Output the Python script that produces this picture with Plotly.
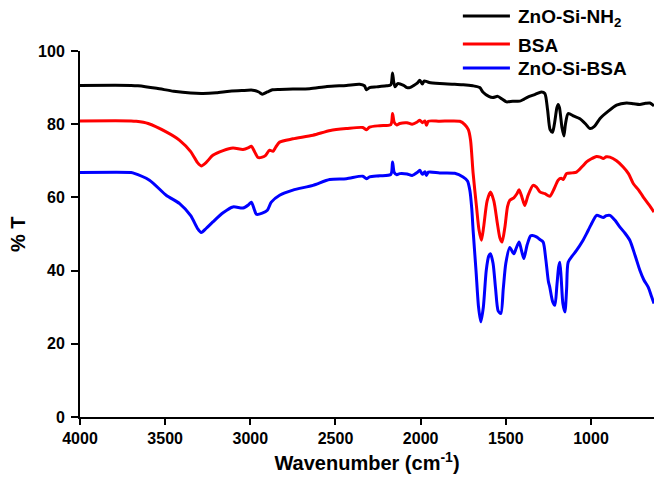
import plotly.graph_objects as go

# FTIR spectra: wavenumber (cm-1) and transmittance (%)
amine_wn = [4000, 3700, 3660, 3550, 3450, 3350, 3278, 3200, 3122, 3050, 2986, 2950, 2930, 2900,
            2870, 2828, 2750, 2652, 2550, 2436, 2358, 2330, 2318, 2300, 2260, 2240, 2200, 2175,
            2165, 2158, 2150, 2135, 2100, 2080, 2064, 2040, 2020, 2005, 1990, 1980, 1966, 1950,
            1888, 1800, 1750, 1694, 1653, 1635, 1600, 1576, 1547, 1520, 1496, 1459, 1418, 1395,
            1371, 1330, 1291, 1271, 1255, 1240, 1226, 1215, 1200, 1193, 1185, 1170, 1159, 1150,
            1134, 1100, 1065, 1030, 1006, 980, 948, 900, 850, 791, 750, 713, 680, 654, 630]
amine_t = [90.6, 90.6, 90.5, 89.8, 89.0, 88.5, 88.4, 88.6, 89.0, 89.2, 89.3, 88.8, 88.2, 88.8,
           89.4, 89.5, 89.6, 89.7, 90.3, 90.6, 90.9, 90.5, 89.4, 90.0, 90.2, 90.3, 90.5, 90.8,
           94.0, 91.5, 90.2, 91.1, 90.6, 90.0, 90.0, 90.6, 91.2, 92.0, 91.0, 91.8, 91.7, 91.4,
           91.1, 90.9, 90.8, 90.5, 90.0, 88.8, 87.6, 87.3, 87.6, 86.8, 86.1, 86.3, 86.3, 86.8,
           87.4, 88.1, 88.8, 88.4, 84.0, 78.5, 77.8, 80.0, 84.5, 85.4, 84.5, 79.0, 76.8, 80.0,
           82.9, 82.2, 81.5, 80.0, 78.8, 79.4, 81.5, 83.5, 85.2, 85.8, 85.6, 85.4, 85.7, 85.8, 85.0]

bsa_wn = [4000, 3700, 3670, 3600, 3494, 3415, 3350, 3310, 3288, 3260, 3220, 3160, 3102, 3043,
          3010, 2994, 2975, 2955, 2930, 2910, 2887, 2867, 2850, 2828, 2750, 2632, 2530, 2436,
          2340, 2318, 2300, 2240, 2175, 2165, 2155, 2140, 2123, 2080, 2050, 2020, 2005, 1990,
          1975, 1966, 1955, 1888, 1770, 1741, 1720, 1707, 1692, 1672, 1657, 1643, 1630, 1610,
          1590, 1570, 1550, 1535, 1522, 1505, 1490, 1477, 1453, 1435, 1422, 1405, 1389, 1370,
          1340, 1320, 1300, 1270, 1242, 1215, 1193, 1175, 1163, 1143, 1110, 1085, 1050, 1026,
          1000, 967, 945, 928, 910, 889, 850, 811, 780, 752, 720, 693, 660, 630]
bsa_t = [80.9, 80.9, 80.8, 80.2, 77.9, 75.6, 72.5, 69.5, 68.6, 69.5, 71.5, 72.8, 73.5, 73.1,
         73.6, 74.0, 72.5, 70.9, 71.0, 71.5, 72.9, 72.6, 73.8, 75.1, 76.0, 77.0, 78.3, 78.8,
         79.1, 78.5, 79.2, 79.6, 79.9, 82.9, 80.5, 79.8, 80.2, 80.4, 80.0, 80.6, 81.1, 80.4,
         80.9, 79.7, 80.8, 80.8, 80.8, 79.9, 78.5, 75.6, 66.6, 57.4, 51.0, 48.3, 52.0, 59.0,
         61.5, 59.0, 53.0, 49.0, 47.8, 52.0, 57.5, 59.2, 59.9, 61.0, 62.1, 60.0, 57.8, 60.5,
         63.3, 62.8, 61.5, 61.0, 60.3, 62.5, 64.7, 65.2, 64.9, 66.5, 66.7, 66.9, 68.5, 69.7,
         70.5, 71.2, 71.0, 70.6, 71.1, 71.0, 70.0, 68.3, 66.5, 63.8, 62.0, 60.1, 58.0, 56.0]

conj_wn = [4000, 3700, 3690, 3592, 3494, 3415, 3350, 3310, 3288, 3260, 3220, 3160, 3102, 3043,
           3010, 2994, 2975, 2965, 2930, 2900, 2877, 2828, 2750, 2632, 2534, 2436, 2340, 2318,
           2300, 2240, 2175, 2165, 2155, 2140, 2123, 2080, 2050, 2020, 2005, 1990, 1975, 1966,
           1955, 1888, 1800, 1751, 1725, 1711, 1700, 1692, 1675, 1660, 1647, 1632, 1615, 1600,
           1590, 1575, 1560, 1545, 1529, 1515, 1500, 1477, 1453, 1440, 1422, 1408, 1394, 1375,
           1355, 1344, 1320, 1300, 1281, 1265, 1250, 1242, 1225, 1212, 1200, 1190, 1183, 1175,
           1165, 1153, 1143, 1134, 1110, 1085, 1050, 1026, 1000, 967, 945, 928, 910, 889, 860,
           830, 800, 772, 740, 713, 690, 664, 645, 630]
conj_t = [66.8, 66.8, 66.7, 64.7, 60.6, 58.3, 55.0, 51.5, 50.4, 51.5, 53.3, 55.8, 57.4, 57.1,
          58.0, 58.7, 56.5, 55.4, 55.7, 56.5, 58.7, 60.6, 62.0, 63.3, 64.9, 65.1, 65.8, 65.1,
          65.6, 65.9, 66.3, 69.7, 66.8, 66.2, 66.5, 66.4, 66.0, 66.8, 67.4, 66.3, 67.0, 66.0,
          66.9, 66.7, 66.6, 65.6, 64.5, 61.9, 57.0, 51.0, 40.0, 30.0, 26.0, 30.0, 40.0, 44.0,
          44.6, 42.0, 35.0, 29.0, 28.3, 35.0, 42.0, 46.3, 44.6, 46.0, 47.8, 45.5, 43.3, 47.0,
          49.5, 49.6, 49.2, 48.5, 47.8, 43.0, 37.0, 35.5, 31.5, 30.5, 36.0, 41.0, 42.3, 38.0,
          31.0, 28.7, 35.0, 42.3, 44.0, 45.5, 48.0, 50.1, 52.5, 55.1, 54.8, 54.5, 55.0, 55.1, 53.8,
          51.9, 50.2, 48.3, 44.0, 40.1, 37.5, 35.5, 33.0, 31.0]

series_names = ["ZnO-Si-NH<sub>2</sub>", "BSA", "ZnO-Si-BSA"]
series_colors = ["#000000", "#ff0000", "#0000ff"]
series_data = [(amine_wn, amine_t), (bsa_wn, bsa_t), (conj_wn, conj_t)]

x_ticks = [4000, 3500, 3000, 2500, 2000, 1500, 1000]
y_ticks = [0, 20, 40, 60, 80, 100]

FONT = "Arial, Liberation Sans, sans-serif"
TITLE_FONT = dict(family=FONT, size=20, color="black", weight="bold")

fig = go.Figure()
for (wn, t), color in zip(series_data, series_colors):
    fig.add_trace(go.Scatter(
        x=wn, y=t, mode="lines",
        line=dict(color=color, width=3, shape="spline", smoothing=0.7),
        showlegend=False, hoverinfo="skip",
    ))

# Legend drawn as line samples with labels above the top-right of the plot
legend_rows = [1.0956, 1.0191, 0.9536]
legend_text_y = [1.0907, 1.0142, 0.9514]
for name, color, ly, ty in zip(series_names, series_colors, legend_rows, legend_text_y):
    fig.add_shape(type="line", xref="paper", yref="paper",
                  x0=0.667, x1=0.749, y0=ly, y1=ly,
                  line=dict(color=color, width=3))
    fig.add_annotation(xref="paper", yref="paper", x=0.7596, y=ty,
                       text=name, showarrow=False, xanchor="left", yanchor="middle",
                       font=dict(family=FONT, size=19, color="black", weight="bold"))

# Y-axis title placed left of the tick labels
fig.add_annotation(xref="paper", yref="paper", x=-0.108, y=0.5, text="% T",
                   textangle=-90, showarrow=False, xanchor="center", yanchor="middle",
                   font=TITLE_FONT)

axis_common = dict(
    showline=True, linecolor="black", linewidth=2,
    ticks="outside", tickcolor="black", tickwidth=2,
    showgrid=False, zeroline=False,
    tickfont=dict(family=FONT, size=16, color="black", weight="bold"),
)

fig.update_layout(
    width=654, height=478,
    margin=dict(l=80, r=0, t=51, b=61),
    paper_bgcolor="white", plot_bgcolor="white",
    xaxis=dict(range=[4000, 630], tickvals=x_ticks, ticklen=6,
               title=dict(text="Wavenumber (cm<sup>-1</sup>)", standoff=10, font=TITLE_FONT),
               **axis_common),
    yaxis=dict(range=[0, 100], tickvals=y_ticks, ticklen=7, ticklabelstandoff=3,
               **axis_common),
)

fig.write_html("out.html")
